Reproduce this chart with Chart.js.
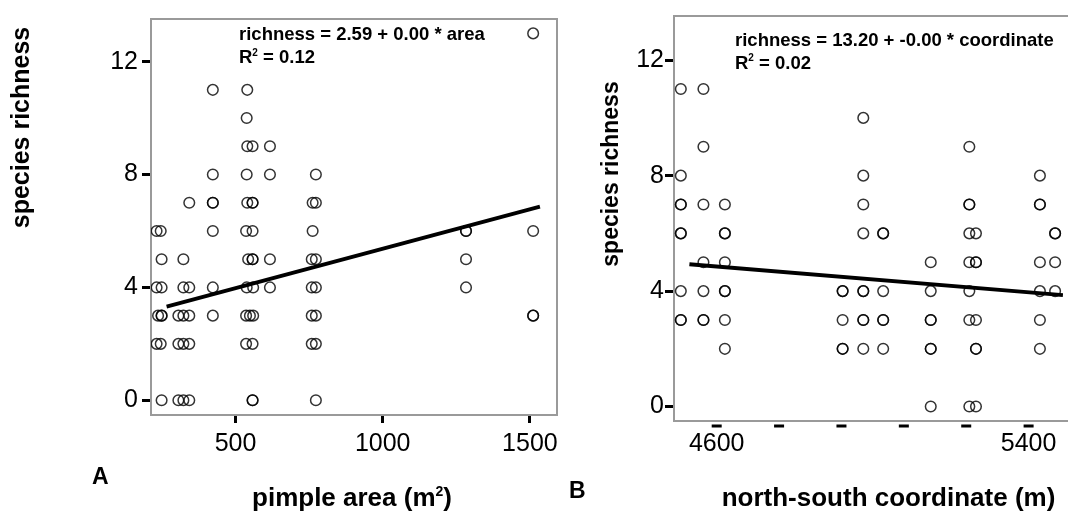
<!DOCTYPE html>
<html>
<head>
<meta charset="utf-8">
<script src="https://cdn.jsdelivr.net/npm/chart.js@4.4.0/dist/chart.umd.min.js"></script>
<style>
  html, body { margin: 0; padding: 0; background: #fff; overflow: hidden; width: 1068px; height: 511px; }
  canvas { position: absolute; top: 0; }
  #chartA { left: 0; }
  #chartB { left: 570px; }
</style>
</head>
<body>
<canvas id="chartA" width="570" height="511"></canvas>
<canvas id="chartB" width="505" height="511"></canvas>
<script>
// A: species richness vs pimple area, one line per richness level
const areaX = [
  1511,
  423, 540,
  538,
  540, 558, 617,
  423, 538, 617, 773,
  343, 423, 423, 540, 558, 558, 762, 773,
  232, 246, 423, 536, 558, 762, 1283, 1283, 1511,
  249, 323, 543, 558, 558, 617, 759, 773, 1283,
  232, 249, 323, 343, 423, 538, 560, 617, 759, 773, 1283,
  237, 249, 249, 306, 323, 343, 423, 536, 549, 560, 759, 773, 1511, 1511,
  232, 246, 306, 323, 343, 536, 558, 759, 773,
  249, 306, 323, 343, 558, 558, 773
];
const areaY = [
  13,
  11, 11,
  10,
  9, 9, 9,
  8, 8, 8, 8,
  7, 7, 7, 7, 7, 7, 7, 7,
  6, 6, 6, 6, 6, 6, 6, 6, 6,
  5, 5, 5, 5, 5, 5, 5, 5, 5,
  4, 4, 4, 4, 4, 4, 4, 4, 4, 4, 4,
  3, 3, 3, 3, 3, 3, 3, 3, 3, 3, 3, 3, 3, 3,
  2, 2, 2, 2, 2, 2, 2, 2, 2,
  0, 0, 0, 0, 0, 0, 0
];
const areaTicks = [500, 1000, 1500];
const areaFitX = [266, 1534];
const areaFitY = [3.32, 6.86];

// B: species richness vs north-south coordinate
const coordX = [
  4508, 4566,
  4976,
  4566, 5248,
  4508, 4976, 5429,
  4508, 4508, 4566, 4621, 4976, 5248, 5248, 5429, 5429,
  4508, 4508, 4621, 4621, 4976, 5027, 5027, 5248, 5265, 5468, 5468,
  4566, 4621, 5149, 5248, 5265, 5265, 5429, 5468,
  4508, 4566, 4621, 4621, 4923, 4923, 4976, 4976, 5027, 5149, 5248, 5429, 5468,
  4508, 4508, 4566, 4566, 4621, 4923, 4976, 4976, 5027, 5027, 5149, 5149, 5248, 5265, 5429,
  4621, 4923, 4923, 4976, 5027, 5149, 5149, 5265, 5265, 5429,
  5149, 5248, 5265
];
const coordY = [
  11, 11,
  10,
  9, 9,
  8, 8, 8,
  7, 7, 7, 7, 7, 7, 7, 7, 7,
  6, 6, 6, 6, 6, 6, 6, 6, 6, 6, 6,
  5, 5, 5, 5, 5, 5, 5, 5,
  4, 4, 4, 4, 4, 4, 4, 4, 4, 4, 4, 4, 4,
  3, 3, 3, 3, 3, 3, 3, 3, 3, 3, 3, 3, 3, 3, 3,
  2, 2, 2, 2, 2, 2, 2, 2, 2, 2,
  0, 0, 0
];
const coordTicks = [4600, 5400];
const coordMinorTicks = [4600, 4760, 4920, 5080, 5240, 5400];
const coordFitX = [4530, 5488];
const coordFitY = [4.93, 3.86];

const richnessTicks = [0, 4, 8, 12];

const FONT = '"Liberation Sans", Arial, sans-serif';
const GREY = '#9a9a9a';

Chart.defaults.font.family = FONT;
Chart.defaults.color = '#000';

function toPoints(xs, ys) {
  return xs.map((x, i) => ({ x: x, y: ys[i] }));
}

function fixedTicks(values) {
  return scale => { scale.ticks = values.map(v => ({ value: v })); };
}

// text with optional superscript pieces: [{t: 'R'}, {t: '2', sup: true}, ...]
function richText(ctx, parts, x, y, size, align) {
  const fontFor = p => 'bold ' + (p.sup ? Math.round(size * 0.55) : size) + 'px ' + FONT;
  const widths = parts.map(p => { ctx.font = fontFor(p); return ctx.measureText(p.t).width; });
  let cx = align === 'center' ? x - widths.reduce((a, b) => a + b, 0) / 2 : x;
  ctx.textAlign = 'left';
  ctx.textBaseline = 'alphabetic';
  parts.forEach((p, i) => {
    ctx.font = fontFor(p);
    ctx.fillText(p.t, cx, p.sup ? y - size * 0.38 : y);
    cx += widths[i];
  });
}

function verticalTitle(ctx, text, x, y, size) {
  ctx.save();
  ctx.translate(x, y);
  ctx.rotate(-Math.PI / 2);
  ctx.font = 'bold ' + size + 'px ' + FONT;
  ctx.textAlign = 'center';
  ctx.textBaseline = 'alphabetic';
  ctx.fillText(text, 0, 0);
  ctx.restore();
}

function drawFrame(chart) {
  const { ctx, chartArea: a } = chart;
  ctx.save();
  ctx.strokeStyle = GREY;
  ctx.lineWidth = 2;
  ctx.beginPath();
  ctx.moveTo(a.left, a.top);
  ctx.lineTo(a.right, a.top);
  ctx.lineTo(a.right, a.bottom);
  ctx.stroke();
  ctx.restore();
}

function richnessAxis(min, max, width, pad) {
  return {
    type: 'linear', min: min, max: max,
    afterBuildTicks: fixedTicks(richnessTicks),
    afterFit: s => { s.width = width; },
    grid: { drawOnChartArea: false, tickLength: 9, tickWidth: 3, tickColor: '#000' },
    border: { color: GREY, width: 2 },
    ticks: { font: { size: 25 }, padding: pad, color: '#000', callback: v => v }
  };
}

function datasets(points, fitX, fitY) {
  return [
    {
      type: 'line',
      data: toPoints(fitX, fitY),
      borderColor: '#000',
      borderWidth: 3.8,
      pointRadius: 0,
      order: 0
    },
    {
      data: points,
      pointStyle: 'circle',
      pointRadius: 5.3,
      pointBorderWidth: 1.5,
      borderColor: 'rgba(0,0,0,0.8)',
      backgroundColor: 'rgba(0,0,0,0)',
      order: 1
    }
  ];
}

const commonOptions = {
  responsive: false,
  animation: false,
  devicePixelRatio: 1,
  events: [],
  plugins: { legend: { display: false }, tooltip: { enabled: false } }
};

new Chart(document.getElementById('chartA'), {
  type: 'scatter',
  data: { datasets: datasets(toPoints(areaX, areaY), areaFitX, areaFitY) },
  options: Object.assign({}, commonOptions, {
    layout: { autoPadding: false, padding: { left: 0, top: 9.5, right: 13, bottom: 0 } },
    scales: {
      x: {
        type: 'linear', min: 213, max: 1592,
        afterBuildTicks: fixedTicks(areaTicks),
        afterFit: s => { s.height = 96; },
        grid: { drawOnChartArea: false, tickLength: 8, tickWidth: 3, tickColor: '#000' },
        border: { color: GREY, width: 2 },
        ticks: { font: { size: 25 }, padding: 6, maxRotation: 0, autoSkip: false, color: '#000', callback: v => v }
      },
      y: richnessAxis(-0.52, 13.51, 151, 4)
    }
  }),
  plugins: [{
    id: 'panelA',
    afterDraw(chart) {
      const ctx = chart.ctx;
      drawFrame(chart);
      ctx.save();
      ctx.fillStyle = '#000';
      richText(ctx, [{ t: 'richness = 2.59 + 0.00 * area' }], 239, 40, 18.5);
      richText(ctx, [{ t: 'R' }, { t: '2', sup: true }, { t: ' = 0.12' }], 239, 63, 18.5);
      verticalTitle(ctx, 'species richness', 29, 127.5, 25);
      richText(ctx, [{ t: 'pimple area (m' }, { t: '2', sup: true }, { t: ')' }], 352, 506, 26, 'center');
      richText(ctx, [{ t: 'A' }], 92, 484, 23);
      ctx.restore();
    }
  }]
});

new Chart(document.getElementById('chartB'), {
  type: 'scatter',
  data: { datasets: datasets(toPoints(coordX, coordY), coordFitX, coordFitY) },
  options: Object.assign({}, commonOptions, {
    layout: { autoPadding: false, padding: { left: 0, top: 15.7, right: 0, bottom: 0 } },
    scales: {
      x: {
        type: 'linear', min: 4490.5, max: 5519,
        afterBuildTicks: fixedTicks(coordTicks),
        afterFit: s => { s.height = 90; },
        grid: { drawOnChartArea: false, drawTicks: false },
        border: { color: GREY, width: 2 },
        ticks: { font: { size: 25 }, padding: 8, maxRotation: 0, autoSkip: false, color: '#000', callback: v => v }
      },
      y: richnessAxis(-0.5, 13.53, 104, 1)
    }
  }),
  plugins: [{
    id: 'panelB',
    afterDraw(chart) {
      const ctx = chart.ctx;
      const xs = chart.scales.x;
      drawFrame(chart);
      ctx.save();
      ctx.fillStyle = '#000';
      // short dashes under the axis at every 160 m
      coordMinorTicks.forEach(v => {
        const px = xs.getPixelForValue(v);
        ctx.fillRect(px - 5, 424.5, 10, 3);
      });
      richText(ctx, [{ t: 'richness = 13.20 + -0.00 * coordinate' }], 165, 46, 18.5);
      richText(ctx, [{ t: 'R' }, { t: '2', sup: true }, { t: ' = 0.02' }], 165, 68.5, 18.5);
      verticalTitle(ctx, 'species richness', 47.5, 174, 23);
      richText(ctx, [{ t: 'north-south coordinate (m)' }], 318.5, 506, 26, 'center');
      richText(ctx, [{ t: 'B' }], -1, 498, 23);
      ctx.restore();
    }
  }]
});
</script>
</body>
</html>
